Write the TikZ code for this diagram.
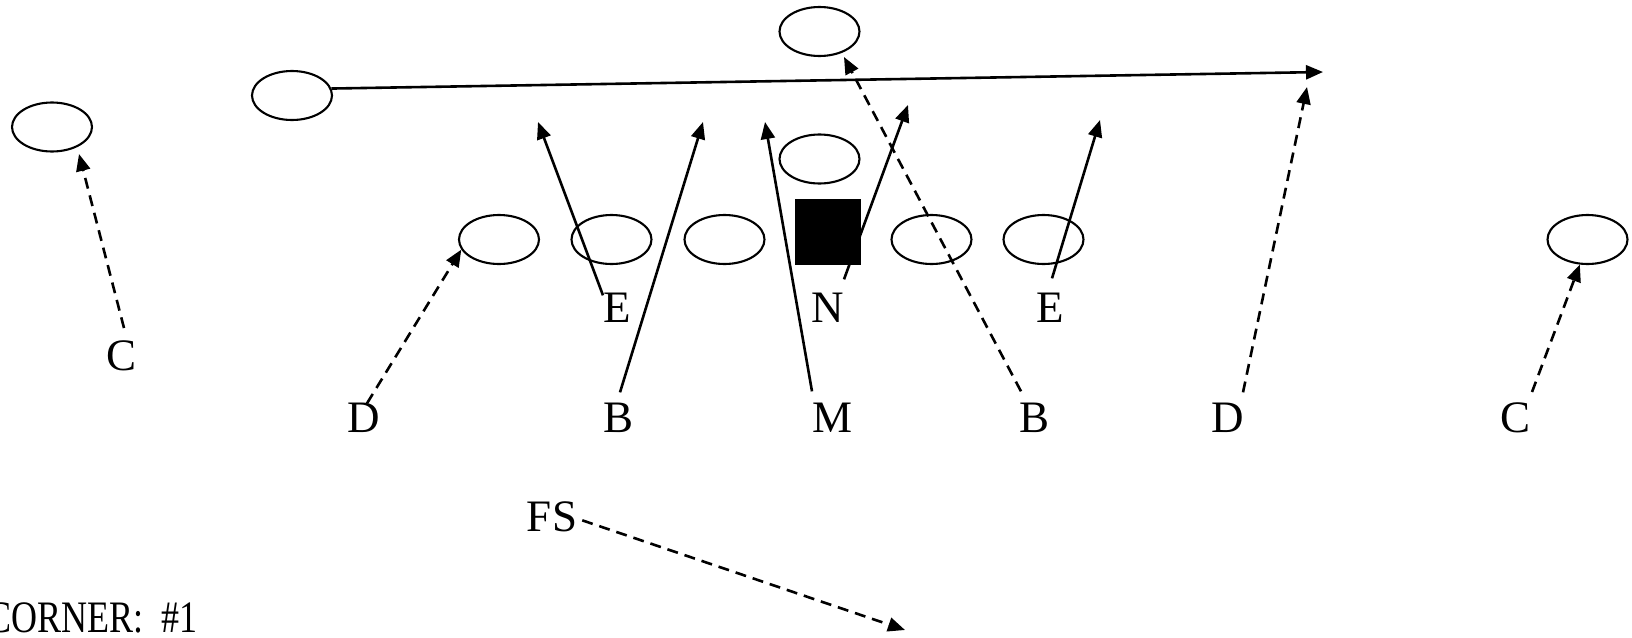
\documentclass[tikz,border=0pt]{standalone}
\usepackage{fontspec}
\setmainfont{Liberation Serif}
\usetikzlibrary{shapes.geometric,arrows.meta}
\begin{document}
\begin{tikzpicture}[x=1pt,y=-1pt,
  player/.style={draw, ellipse, line width=2.1pt, minimum width=80pt, minimum height=49pt, inner sep=0pt},
  lbl/.style={anchor=base, inner sep=0pt, font=\fontsize{45}{54}\selectfont},
  route/.style={line width=2.6pt, -{Triangle[length=17pt,width=14pt]}},
  dashroute/.style={route, dash pattern=on 11pt off 7pt}]
\useasboundingbox (0,0) rectangle (1632,637);
% offensive players
\node[player] (lwr) at (52,127) {};
\node[player] (twr) at (292,95.5) {};
\node[player] (deep) at (819.5,31.5) {};
\node[player] (qb) at (819.5,159) {};
\node[player] (o1) at (499,239.5) {};
\node[player] (o2) at (611.5,239.5) {};
\node[player] (o3) at (724.5,239.5) {};
\node[player] (o4) at (931.5,239.5) {};
\node[player] (o5) at (1043.5,239.5) {};
\node[player] (rwr) at (1587.5,239.5) {};
\node[fill=black, minimum size=66pt, inner sep=0pt] (ball) at (828,232) {};
% defenders
\node[lbl] (cl) at (122,370) {C};
\node[lbl] (dl) at (364,432) {D};
\node[lbl] (el) at (617,322) {E};
\node[lbl] (bl) at (618,432) {B};
\node[lbl] (n) at (828,322) {N};
\node[lbl] (m) at (832,432) {M};
\node[lbl] (er) at (1050,322) {E};
\node[lbl] (br) at (1034,432) {B};
\node[lbl] (dr) at (1228,432) {D};
\node[lbl] (cr) at (1515,432) {C};
\node[lbl] (fs) at (552,531) {FS};
\node[anchor=base east, inner sep=0pt, font=\fontsize{45}{54}\selectfont] (title) at (198,632) {\scalebox{0.8}[1]{CORNER:\ \ \#1}};
% free ends
\coordinate (twrEnd) at (1323,72);
\coordinate (clEnd) at (79,154);
\coordinate (elEnd) at (538,122);
\coordinate (blEnd) at (703,122);
\coordinate (mEnd) at (765,122);
\coordinate (nEnd) at (908,105);
\coordinate (brEnd) at (844,57);
\coordinate (erEnd) at (1100,120);
\coordinate (drEnd) at (1307,87);
\coordinate (fsEnd) at (905,630);
% routes
\draw[route] (twr.10) -- (twrEnd);
\draw[dashroute] ([shift={(2,-12)}]cl.north) -- (clEnd);
\draw[dashroute] ([shift={(3,1)}]dl.north) -- (o1.195);
\draw[route] ([shift={(-14,3)}]el.north) -- (elEnd);
\draw[route] ([shift={(2,-10)}]bl.north) -- (blEnd);
\draw[route] ([shift={(16,-13)}]n.north) -- (nEnd);
\draw[route] ([shift={(-20,-11)}]m.north) -- (mEnd);
\draw[dashroute] ([shift={(-13,-11)}]br.north) -- (brEnd);
\draw[route] ([shift={(2,-14)}]er.north) -- (erEnd);
\draw[dashroute] ([shift={(15,-10)}]dr.north) -- (drEnd);
\draw[dashroute] ([shift={(17,-10)}]cr.north) -- (rwr.-107);
\draw[dashroute] ([shift={(5,4)}]fs.east) -- (fsEnd);
\end{tikzpicture}
\end{document}
